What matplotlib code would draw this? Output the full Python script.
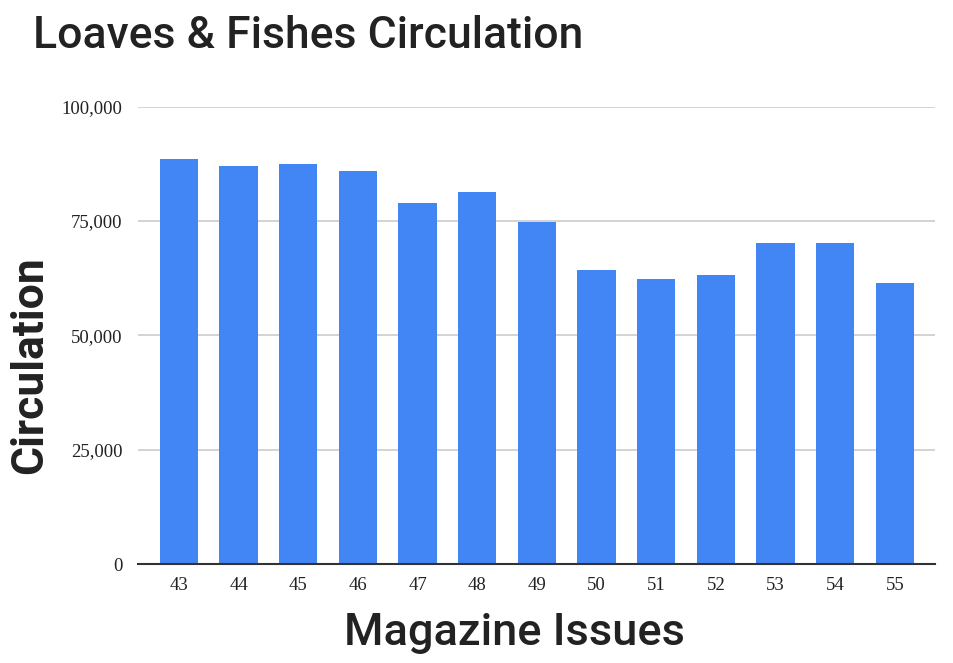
import matplotlib
matplotlib.use("Agg")
import matplotlib.pyplot as plt
from matplotlib.ticker import FuncFormatter

issues = ["43", "44", "45", "46", "47", "48", "49", "50", "51", "52", "53", "54", "55"]
circulation = [88500, 87000, 87400, 86000, 79000, 81300, 74700, 64200, 62400, 63100, 70300, 70300, 61400]
y_ticks = [0, 25000, 50000, 75000, 100000]

fig = plt.figure(figsize=(9.54, 6.63), dpi=100)
ax = fig.add_axes([0.1443, 0.1493, 0.8357, 0.6897])

x = range(len(issues))
ax.bar(x, circulation, width=0.64, color="#4285F4", zorder=3)

ax.set_xlim(-0.69, len(issues) - 1 + 0.67)
ax.set_ylim(0, 100000)
ax.set_yticks(y_ticks)
ax.yaxis.set_major_formatter(FuncFormatter(lambda v, p: f"{int(v):,}"))
ax.set_xticks(list(x))
ax.set_xticklabels(issues)

ax.grid(axis="y", color="#cccccc", linewidth=1.2, zorder=0)
for side in ["top", "right", "left"]:
    ax.spines[side].set_visible(False)
ax.spines["bottom"].set_color("#333333")
ax.spines["bottom"].set_linewidth(1.5)
ax.spines["bottom"].set_zorder(4)

for lbl in ax.get_xticklabels() + ax.get_yticklabels():
    lbl.set_fontfamily("Liberation Serif")
    lbl.set_fontsize(13.5)
    lbl.set_color("#222222")
ax.tick_params(axis="both", length=0)
ax.tick_params(axis="y", pad=11)
ax.tick_params(axis="x", pad=9)

fig.text(514.5 / 954, 1 - 645 / 663, "Magazine Issues", family="Roboto", weight=500,
         size=32.5, color="#222222", ha="center", va="baseline")
fig.text(30 / 954, 1 - 365 / 663, "Circulation", family="Roboto", weight="bold", size=32,
         color="#222222", rotation=90, ha="center", va="center")
fig.text(0.035, 0.945, "Loaves & Fishes Circulation", family="Roboto",
         weight=500, size=32, color="#222222", ha="left", va="center")

fig.savefig("out.png", dpi=100, facecolor="white")
